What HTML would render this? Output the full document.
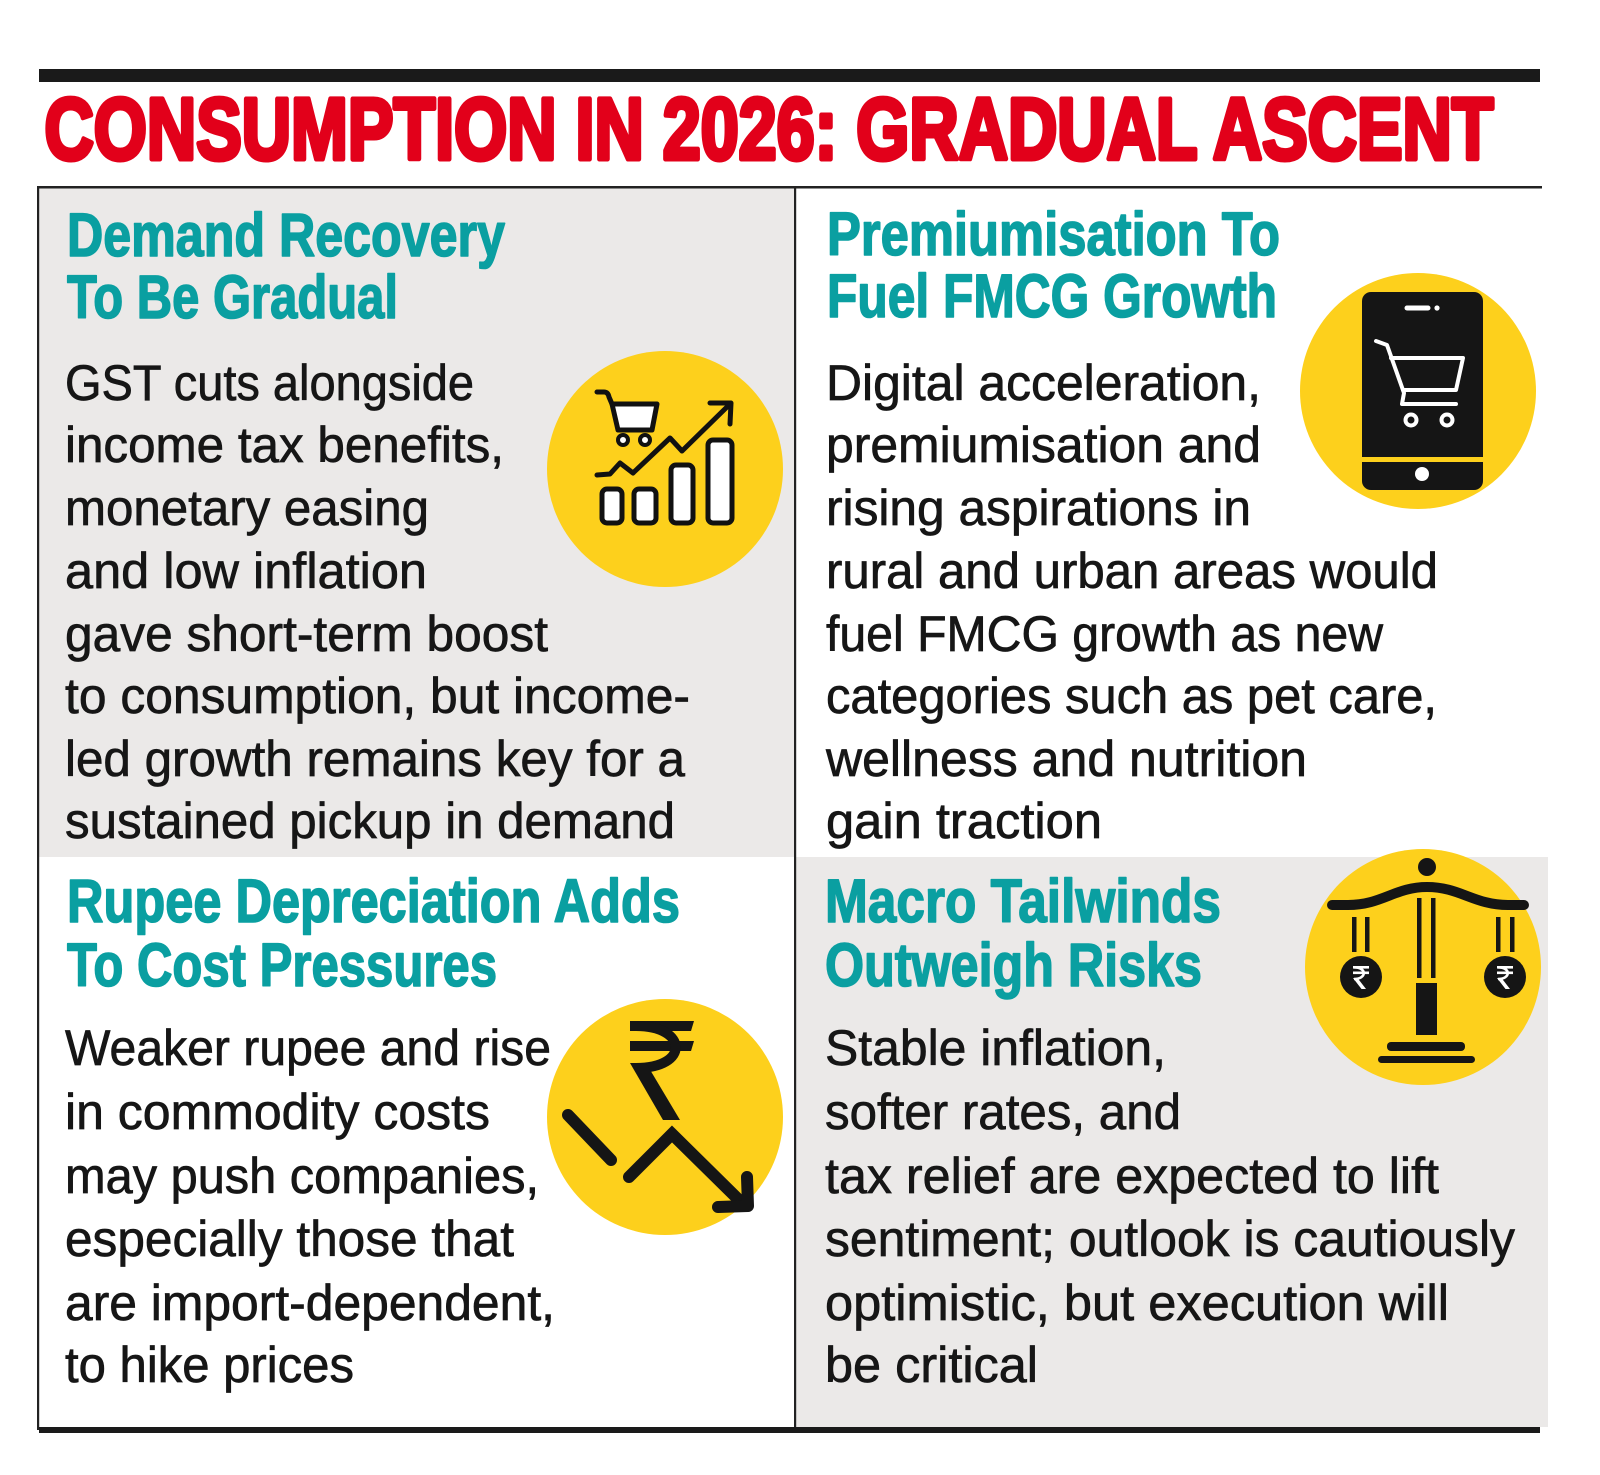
<!DOCTYPE html>
<html>
<head>
<meta charset="utf-8">
<style>
  html,body{margin:0;padding:0;background:#fff;}
  svg{display:block;}
  .t{font-family:"Liberation Sans",Arial,sans-serif;font-weight:bold;fill:#e2001a;stroke:#e2001a;stroke-width:5;stroke-linejoin:round;}
  .h{font-family:"Liberation Sans",Arial,sans-serif;font-weight:bold;font-size:61px;fill:#0a9fa1;stroke:#0a9fa1;stroke-width:1.6;stroke-linejoin:round;}
  .b{font-family:"Liberation Sans",Arial,sans-serif;font-size:50px;fill:#161616;stroke:#161616;stroke-width:0.7;}
</style>
</head>
<body>
<svg width="1600" height="1475" viewBox="0 0 1600 1475" xmlns="http://www.w3.org/2000/svg">
  <rect x="0" y="0" width="1600" height="1475" fill="#ffffff"/>

  <!-- backgrounds -->
  <rect x="39" y="188" width="756" height="669" fill="#ebe9e8"/>
  <rect x="796" y="857" width="752" height="570" fill="#ebe9e8"/>

  <!-- top bar -->
  <rect x="39" y="69" width="1501" height="13" fill="#1a1a1a"/>
  <!-- title -->
  <text class="t" x="44.5" y="159" font-size="87" textLength="1449" lengthAdjust="spacingAndGlyphs">CONSUMPTION IN 2026: GRADUAL ASCENT</text>
  <!-- line under title -->
  <rect x="38" y="186" width="1504" height="2.5" fill="#222"/>
  <!-- left border & divider -->
  <rect x="37" y="186" width="2.2" height="1244" fill="#222"/>
  <rect x="794" y="186" width="2.2" height="1244" fill="#222"/>
  <!-- bottom bar -->
  <rect x="39" y="1427" width="1501" height="6" fill="#1a1a1a"/>

  <!-- ===== Top-left ===== -->
  <text class="h" x="67" y="256" textLength="438" lengthAdjust="spacingAndGlyphs">Demand Recovery</text>
  <text class="h" x="67" y="318" textLength="331" lengthAdjust="spacingAndGlyphs">To Be Gradual</text>
  <text class="b" x="65" y="400" textLength="409" lengthAdjust="spacingAndGlyphs">GST cuts alongside</text>
  <text class="b" x="65" y="462" textLength="439" lengthAdjust="spacingAndGlyphs">income tax benefits,</text>
  <text class="b" x="65" y="525" textLength="364" lengthAdjust="spacingAndGlyphs">monetary easing</text>
  <text class="b" x="65" y="588" textLength="362" lengthAdjust="spacingAndGlyphs">and low inflation</text>
  <text class="b" x="65" y="651" textLength="483" lengthAdjust="spacingAndGlyphs">gave short-term boost</text>
  <text class="b" x="65" y="713" textLength="625" lengthAdjust="spacingAndGlyphs">to consumption, but income-</text>
  <text class="b" x="65" y="776" textLength="620" lengthAdjust="spacingAndGlyphs">led growth remains key for a</text>
  <text class="b" x="65" y="838" textLength="610" lengthAdjust="spacingAndGlyphs">sustained pickup in demand</text>

  <!-- icon: cart + chart -->
  <circle cx="665" cy="469" r="118" fill="#fdd01c"/>
  <g stroke="#111" stroke-width="5" stroke-linecap="round" stroke-linejoin="round">
    <path d="M597,392 L604,392 Q608,392 609,397 L612,404" fill="none"/>
    <path d="M612,404 L657,404 L652,430 L618,430 Z" fill="#fff"/>
    <circle cx="623" cy="440" r="5" fill="#fff" stroke-width="4"/>
    <circle cx="645" cy="440" r="5" fill="#fff" stroke-width="4"/>
    <polyline points="597,475 610,474 620,463 633,473 670,438 682,451 729,405" fill="none"/>
    <polyline points="710,403 731,403 730,424" fill="none"/>
    <rect x="602" y="489" width="20" height="34" rx="5" fill="#fff"/>
    <rect x="634" y="489" width="22" height="34" rx="5" fill="#fff"/>
    <rect x="671" y="465" width="22" height="58" rx="5" fill="#fff"/>
    <rect x="708" y="440" width="24" height="83" rx="5" fill="#fff"/>
  </g>

  <!-- ===== Top-right ===== -->
  <text class="h" x="827" y="255" textLength="453" lengthAdjust="spacingAndGlyphs">Premiumisation To</text>
  <text class="h" x="827" y="317" textLength="450" lengthAdjust="spacingAndGlyphs">Fuel FMCG Growth</text>
  <text class="b" x="826" y="400" textLength="435" lengthAdjust="spacingAndGlyphs">Digital acceleration,</text>
  <text class="b" x="826" y="462" textLength="435" lengthAdjust="spacingAndGlyphs">premiumisation and</text>
  <text class="b" x="826" y="525" textLength="425" lengthAdjust="spacingAndGlyphs">rising aspirations in</text>
  <text class="b" x="826" y="588" textLength="612" lengthAdjust="spacingAndGlyphs">rural and urban areas would</text>
  <text class="b" x="826" y="651" textLength="557" lengthAdjust="spacingAndGlyphs">fuel FMCG growth as new</text>
  <text class="b" x="826" y="713" textLength="611" lengthAdjust="spacingAndGlyphs">categories such as pet care,</text>
  <text class="b" x="826" y="776" textLength="481" lengthAdjust="spacingAndGlyphs">wellness and nutrition</text>
  <text class="b" x="826" y="838" textLength="276" lengthAdjust="spacingAndGlyphs">gain traction</text>

  <!-- icon: phone -->
  <circle cx="1418" cy="391" r="118" fill="#fdd01c"/>
  <rect x="1362" y="292" width="121" height="198" rx="9" fill="#151515"/>
  <rect x="1360" y="457" width="125" height="5" fill="#fdd01c"/>
  <circle cx="1422" cy="474" r="7" fill="#fff"/>
  <line x1="1407" y1="308" x2="1428" y2="308" stroke="#fff" stroke-width="5" stroke-linecap="round"/>
  <circle cx="1437" cy="308" r="2.6" fill="#fff"/>
  <g stroke="#fff" stroke-width="4" fill="none" stroke-linecap="round" stroke-linejoin="round">
    <path d="M1376,341 L1387,345 L1404,393 L1402,404 L1456,404"/>
    <path d="M1391,358 L1463,358 L1456,390 L1403,390"/>
    <circle cx="1411" cy="420" r="5.5" fill="#151515"/>
    <circle cx="1447" cy="420" r="5.5" fill="#151515"/>
  </g>

  <!-- ===== Bottom-left ===== -->
  <text class="h" x="67" y="922" textLength="613" lengthAdjust="spacingAndGlyphs">Rupee Depreciation Adds</text>
  <text class="h" x="67" y="986" textLength="430" lengthAdjust="spacingAndGlyphs">To Cost Pressures</text>
  <text class="b" x="65" y="1065" textLength="486" lengthAdjust="spacingAndGlyphs">Weaker rupee and rise</text>
  <text class="b" x="65" y="1129" textLength="425" lengthAdjust="spacingAndGlyphs">in commodity costs</text>
  <text class="b" x="65" y="1193" textLength="474" lengthAdjust="spacingAndGlyphs">may push companies,</text>
  <text class="b" x="65" y="1256" textLength="449" lengthAdjust="spacingAndGlyphs">especially those that</text>
  <text class="b" x="65" y="1320" textLength="490" lengthAdjust="spacingAndGlyphs">are import-dependent,</text>
  <text class="b" x="65" y="1382" textLength="289" lengthAdjust="spacingAndGlyphs">to hike prices</text>

  <!-- icon: rupee down -->
  <circle cx="665" cy="1117" r="118" fill="#fdd01c"/>
  <g fill="#151515">
    <polygon points="630,1021 694,1021 691,1031 630,1031"/>
    <polygon points="630,1041 694,1041 691,1051 630,1051"/>
    <path d="M636,1026 C 688,1026 690,1068 636,1068" fill="none" stroke="#151515" stroke-width="10"/>
    <polygon points="630,1063 646,1063 680,1120 663,1120"/>
  </g>
  <g stroke="#151515" stroke-width="12" fill="none" stroke-linecap="round" stroke-linejoin="miter">
    <line x1="568" y1="1115" x2="611" y2="1160"/>
    <polyline points="629,1177 672,1134 740,1201"/>
    <polyline points="747,1177 748,1206 718,1207" stroke-linejoin="round"/>
  </g>

  <!-- ===== Bottom-right ===== -->
  <text class="h" x="825" y="922" textLength="396" lengthAdjust="spacingAndGlyphs">Macro Tailwinds</text>
  <text class="h" x="825" y="986" textLength="377" lengthAdjust="spacingAndGlyphs">Outweigh Risks</text>
  <text class="b" x="825" y="1065" textLength="341" lengthAdjust="spacingAndGlyphs">Stable inflation,</text>
  <text class="b" x="825" y="1129" textLength="356" lengthAdjust="spacingAndGlyphs">softer rates, and</text>
  <text class="b" x="825" y="1193" textLength="614" lengthAdjust="spacingAndGlyphs">tax relief are expected to lift</text>
  <text class="b" x="825" y="1256" textLength="690" lengthAdjust="spacingAndGlyphs">sentiment; outlook is cautiously</text>
  <text class="b" x="825" y="1320" textLength="624" lengthAdjust="spacingAndGlyphs">optimistic, but execution will</text>
  <text class="b" x="825" y="1382" textLength="213" lengthAdjust="spacingAndGlyphs">be critical</text>

  <!-- icon: scale -->
  <circle cx="1423" cy="967" r="118" fill="#fdd01c"/>
  <g fill="#151515">
    <circle cx="1427" cy="867" r="9"/>
    <path d="M1332,905 L1348,905 C1382,905 1395,887 1427,887 C1460,887 1474,905 1508,905 L1524,905" fill="none" stroke="#151515" stroke-width="10" stroke-linecap="round"/>
    <rect x="1417" y="898" width="4.5" height="80"/>
    <rect x="1431" y="898" width="4.5" height="80"/>
    <rect x="1416" y="983" width="21" height="52"/>
    <rect x="1387" y="1042" width="78" height="9" rx="4"/>
    <rect x="1378" y="1056" width="97" height="7" rx="3.5"/>
    <rect x="1352" y="917" width="4.5" height="35"/>
    <rect x="1365" y="917" width="4.5" height="35"/>
    <rect x="1496" y="917" width="4.5" height="35"/>
    <rect x="1510" y="917" width="4.5" height="35"/>
    <circle cx="1361" cy="977" r="21"/>
    <circle cx="1505" cy="977" r="21"/>
  </g>
  <g fill="#fff" stroke="#fff">
    <g transform="translate(1361,977)">
      <rect x="-8" y="-11" width="16" height="2.6" stroke="none"/>
      <rect x="-8" y="-5.5" width="16" height="2.6" stroke="none"/>
      <path d="M-7,-9.7 C6,-9.7 6,2 -7,2" fill="none" stroke-width="2.6"/>
      <polygon points="-8,1 -3.5,1 5,12 0.5,12" stroke="none"/>
    </g>
    <g transform="translate(1505,977)">
      <rect x="-8" y="-11" width="16" height="2.6" stroke="none"/>
      <rect x="-8" y="-5.5" width="16" height="2.6" stroke="none"/>
      <path d="M-7,-9.7 C6,-9.7 6,2 -7,2" fill="none" stroke-width="2.6"/>
      <polygon points="-8,1 -3.5,1 5,12 0.5,12" stroke="none"/>
    </g>
  </g>
</svg>
</body>
</html>
